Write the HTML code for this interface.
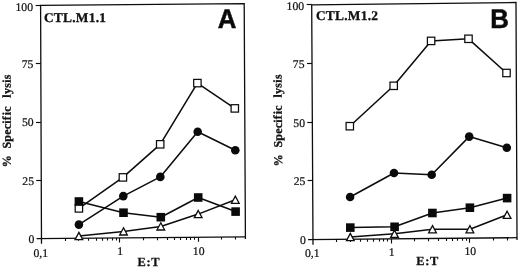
<!DOCTYPE html>
<html><head><meta charset="utf-8"><title>Figure</title>
<style>
html,body{margin:0;padding:0;background:#fff;}
body{width:520px;height:269px;overflow:hidden;}
svg{display:block;will-change:transform;filter:grayscale(1)}
text{text-rendering:geometricPrecision;font-variant-ligatures:none;font-kerning:none}
.tk{font-family:"Liberation Serif",serif;font-size:11.7px;fill:#111;stroke:#111;stroke-width:0.22px}
.ti{font-family:"Liberation Serif",serif;font-size:13.4px;font-weight:bold;fill:#111;stroke:#111;stroke-width:0.3px;letter-spacing:0.27px}
.lt{font-family:"Liberation Sans",sans-serif;font-size:25.8px;font-weight:bold;fill:#0a0a0a;stroke:#0a0a0a;stroke-width:0.5px;}
.yl{font-family:"Liberation Serif",serif;font-size:12px;font-weight:bold;fill:#111;stroke:#111;stroke-width:0.3px}
.xl{font-family:"Liberation Serif",serif;font-size:12.4px;font-weight:bold;fill:#111;letter-spacing:0.65px;stroke:#111;stroke-width:0.3px}
</style></head><body>
<svg width="520" height="269" viewBox="0 0 520 269">
<rect width="520" height="269" fill="#fff"/>
<path d="M41.50 243.80 L40.6 5.4 L244.2 3.7 L245.4 236.8 L245.41 239.00" fill="none" stroke="#0d0d0d" stroke-width="1.3" stroke-linejoin="miter"/>
<path d="M36.60 238.63 L245.4 236.8" fill="none" stroke="#0d0d0d" stroke-width="1.3"/>
<path d="M35.60 5.50 L40.60 5.50" stroke="#0d0d0d" stroke-width="1.15"/>
<text x="33.00" y="10.60" text-anchor="end" class="tk">100</text>
<path d="M35.80 63.50 L40.80 63.50" stroke="#0d0d0d" stroke-width="1.15"/>
<text x="33.35" y="68.00" text-anchor="end" class="tk">75</text>
<path d="M36.00 122.50 L41.00 122.50" stroke="#0d0d0d" stroke-width="1.15"/>
<text x="33.70" y="126.30" text-anchor="end" class="tk">50</text>
<path d="M36.20 180.50 L41.20 180.50" stroke="#0d0d0d" stroke-width="1.15"/>
<text x="34.05" y="184.60" text-anchor="end" class="tk">25</text>
<text x="34.40" y="242.90" text-anchor="end" class="tk">0</text>
<path d="M65.50 238.39 L65.51 240.99" stroke="#0d0d0d" stroke-width="1.1"/>
<path d="M78.50 238.27 L78.51 240.87" stroke="#0d0d0d" stroke-width="1.1"/>
<path d="M88.50 238.18 L88.51 240.78" stroke="#0d0d0d" stroke-width="1.1"/>
<path d="M96.50 238.12 L96.51 240.72" stroke="#0d0d0d" stroke-width="1.1"/>
<path d="M102.50 238.06 L102.51 240.66" stroke="#0d0d0d" stroke-width="1.1"/>
<path d="M107.50 238.02 L107.51 240.62" stroke="#0d0d0d" stroke-width="1.1"/>
<path d="M112.50 237.98 L112.51 240.58" stroke="#0d0d0d" stroke-width="1.1"/>
<path d="M116.50 237.94 L116.51 240.54" stroke="#0d0d0d" stroke-width="1.1"/>
<path d="M119.50 237.91 L119.52 242.41" stroke="#0d0d0d" stroke-width="1.15"/>
<path d="M143.50 237.70 L143.51 240.30" stroke="#0d0d0d" stroke-width="1.1"/>
<path d="M157.50 237.58 L157.51 240.18" stroke="#0d0d0d" stroke-width="1.1"/>
<path d="M167.50 237.49 L167.51 240.09" stroke="#0d0d0d" stroke-width="1.1"/>
<path d="M174.50 237.42 L174.51 240.02" stroke="#0d0d0d" stroke-width="1.1"/>
<path d="M180.50 237.37 L180.51 239.97" stroke="#0d0d0d" stroke-width="1.1"/>
<path d="M186.50 237.32 L186.51 239.92" stroke="#0d0d0d" stroke-width="1.1"/>
<path d="M190.50 237.28 L190.51 239.88" stroke="#0d0d0d" stroke-width="1.1"/>
<path d="M194.50 237.25 L194.51 239.85" stroke="#0d0d0d" stroke-width="1.1"/>
<path d="M198.50 237.22 L198.52 241.72" stroke="#0d0d0d" stroke-width="1.15"/>
<path d="M221.50 237.01 L221.51 239.61" stroke="#0d0d0d" stroke-width="1.1"/>
<path d="M235.50 236.89 L235.51 239.49" stroke="#0d0d0d" stroke-width="1.1"/>
<text x="40.80" y="256.70" text-anchor="middle" class="tk">0,1</text>
<text x="120.10" y="255.21" text-anchor="middle" class="tk">1</text>
<text x="198.70" y="254.52" text-anchor="middle" class="tk">10</text>
<text x="43.9" y="21.5" class="ti">CTL.M1.1</text>
<text transform="translate(217.7 27.75) scale(1 1.045)" class="lt">A</text>
<text transform="translate(10.85 166.1) rotate(-90.15)" class="yl"><tspan x="-1.1">%</tspan><tspan x="17.5" style="letter-spacing:0.22px">Specif</tspan><tspan dx="0.7" style="letter-spacing:0.2px">ic</tspan><tspan x="68.4" style="letter-spacing:0.3px">lysis</tspan></text>
<text x="137.5" y="266.35" class="xl">E:T</text>
<path d="M78.9 208.4 L122.9 177.4 L160.2 144.3 L197.4 83.1 L234.8 108.4" fill="none" stroke="#0d0d0d" stroke-width="1.55" stroke-linejoin="round"/>
<path d="M78.9 224.6 L123.3 196.1 L160.3 176.9 L197.7 131.8 L235.3 150.3" fill="none" stroke="#0d0d0d" stroke-width="1.55" stroke-linejoin="round"/>
<path d="M78.9 201.5 L123.5 212.7 L160.8 217.2 L198.2 197.5 L235.6 211.6" fill="none" stroke="#0d0d0d" stroke-width="1.55" stroke-linejoin="round"/>
<path d="M78.9 236.0 L123.5 231.4 L160.8 226.4 L198.2 214.1 L235.3 199.7" fill="none" stroke="#0d0d0d" stroke-width="1.55" stroke-linejoin="round"/>
<rect x="75.20" y="204.70" width="7.4" height="7.4" fill="#fff" stroke="#0d0d0d" stroke-width="1.25"/>
<rect x="119.20" y="173.70" width="7.4" height="7.4" fill="#fff" stroke="#0d0d0d" stroke-width="1.25"/>
<rect x="156.50" y="140.60" width="7.4" height="7.4" fill="#fff" stroke="#0d0d0d" stroke-width="1.25"/>
<rect x="193.70" y="79.40" width="7.4" height="7.4" fill="#fff" stroke="#0d0d0d" stroke-width="1.25"/>
<rect x="231.10" y="104.70" width="7.4" height="7.4" fill="#fff" stroke="#0d0d0d" stroke-width="1.25"/>
<path d="M78.90 232.40 L82.75 239.60 L75.05 239.60 Z" fill="#fff" stroke="#0d0d0d" stroke-width="1.3" stroke-linejoin="miter"/>
<path d="M123.50 227.80 L127.35 235.00 L119.65 235.00 Z" fill="#fff" stroke="#0d0d0d" stroke-width="1.3" stroke-linejoin="miter"/>
<path d="M160.80 222.80 L164.65 230.00 L156.95 230.00 Z" fill="#fff" stroke="#0d0d0d" stroke-width="1.3" stroke-linejoin="miter"/>
<path d="M198.20 210.50 L202.05 217.70 L194.35 217.70 Z" fill="#fff" stroke="#0d0d0d" stroke-width="1.3" stroke-linejoin="miter"/>
<path d="M235.30 196.10 L239.15 203.30 L231.45 203.30 Z" fill="#fff" stroke="#0d0d0d" stroke-width="1.3" stroke-linejoin="miter"/>
<circle cx="78.9" cy="224.6" r="4.3" fill="#0a0a0a"/>
<circle cx="123.3" cy="196.1" r="4.3" fill="#0a0a0a"/>
<circle cx="160.3" cy="176.9" r="4.3" fill="#0a0a0a"/>
<circle cx="197.7" cy="131.8" r="4.3" fill="#0a0a0a"/>
<circle cx="235.3" cy="150.3" r="4.3" fill="#0a0a0a"/>
<rect x="74.60" y="197.20" width="8.6" height="8.6" fill="#0a0a0a"/>
<rect x="119.20" y="208.40" width="8.6" height="8.6" fill="#0a0a0a"/>
<rect x="156.50" y="212.90" width="8.6" height="8.6" fill="#0a0a0a"/>
<rect x="193.90" y="193.20" width="8.6" height="8.6" fill="#0a0a0a"/>
<rect x="231.30" y="207.30" width="8.6" height="8.6" fill="#0a0a0a"/>
<path d="M313.00 244.85 L311.7 4.8 L516.0 2.5 L517.0 237.7 L517.01 239.90" fill="none" stroke="#0d0d0d" stroke-width="1.3" stroke-linejoin="miter"/>
<path d="M308.10 239.68 L517.0 237.7" fill="none" stroke="#0d0d0d" stroke-width="1.3"/>
<path d="M306.70 4.50 L311.70 4.50" stroke="#0d0d0d" stroke-width="1.15"/>
<text x="304.10" y="10.00" text-anchor="end" class="tk">100</text>
<path d="M307.00 63.50 L312.00 63.50" stroke="#0d0d0d" stroke-width="1.15"/>
<text x="304.55" y="67.81" text-anchor="end" class="tk">75</text>
<path d="M307.30 122.50 L312.30 122.50" stroke="#0d0d0d" stroke-width="1.15"/>
<text x="305.00" y="126.53" text-anchor="end" class="tk">50</text>
<path d="M307.60 180.50 L312.60 180.50" stroke="#0d0d0d" stroke-width="1.15"/>
<text x="305.45" y="185.24" text-anchor="end" class="tk">25</text>
<text x="305.90" y="243.95" text-anchor="end" class="tk">0</text>
<path d="M336.50 239.42 L336.51 242.02" stroke="#0d0d0d" stroke-width="1.1"/>
<path d="M350.50 239.29 L350.51 241.89" stroke="#0d0d0d" stroke-width="1.1"/>
<path d="M360.50 239.20 L360.51 241.80" stroke="#0d0d0d" stroke-width="1.1"/>
<path d="M367.50 239.13 L367.51 241.73" stroke="#0d0d0d" stroke-width="1.1"/>
<path d="M373.50 239.07 L373.51 241.67" stroke="#0d0d0d" stroke-width="1.1"/>
<path d="M379.50 239.02 L379.51 241.62" stroke="#0d0d0d" stroke-width="1.1"/>
<path d="M383.50 238.97 L383.51 241.57" stroke="#0d0d0d" stroke-width="1.1"/>
<path d="M387.50 238.93 L387.51 241.53" stroke="#0d0d0d" stroke-width="1.1"/>
<path d="M391.50 238.90 L391.52 243.40" stroke="#0d0d0d" stroke-width="1.15"/>
<path d="M414.50 238.68 L414.51 241.28" stroke="#0d0d0d" stroke-width="1.1"/>
<path d="M428.50 238.54 L428.51 241.14" stroke="#0d0d0d" stroke-width="1.1"/>
<path d="M438.50 238.45 L438.51 241.05" stroke="#0d0d0d" stroke-width="1.1"/>
<path d="M446.50 238.38 L446.51 240.98" stroke="#0d0d0d" stroke-width="1.1"/>
<path d="M452.50 238.32 L452.51 240.92" stroke="#0d0d0d" stroke-width="1.1"/>
<path d="M457.50 238.27 L457.51 240.87" stroke="#0d0d0d" stroke-width="1.1"/>
<path d="M462.50 238.22 L462.51 240.82" stroke="#0d0d0d" stroke-width="1.1"/>
<path d="M466.50 238.19 L466.51 240.79" stroke="#0d0d0d" stroke-width="1.1"/>
<path d="M469.50 238.15 L469.52 242.65" stroke="#0d0d0d" stroke-width="1.15"/>
<path d="M493.50 237.93 L493.51 240.53" stroke="#0d0d0d" stroke-width="1.1"/>
<path d="M507.50 237.79 L507.51 240.39" stroke="#0d0d0d" stroke-width="1.1"/>
<text x="312.30" y="257.35" text-anchor="middle" class="tk">0,1</text>
<text x="391.64" y="255.90" text-anchor="middle" class="tk">1</text>
<text x="470.28" y="255.15" text-anchor="middle" class="tk">10</text>
<text x="315.9" y="20.1" class="ti">CTL.M1.2</text>
<text transform="translate(490.3 27.7) scale(1 1.045)" class="lt">B</text>
<text transform="translate(282.25 165.1) rotate(-90.5)" class="yl"><tspan x="-1.1">%</tspan><tspan x="17.5" style="letter-spacing:0.22px">Specif</tspan><tspan dx="0.7" style="letter-spacing:0.2px">ic</tspan><tspan x="67.5" style="letter-spacing:0.3px">lysis</tspan></text>
<text x="416.3" y="265.0" class="xl">E:T</text>
<path d="M349.8 126.2 L393.7 85.8 L431.1 40.9 L468.5 38.8 L506.5 73.0" fill="none" stroke="#0d0d0d" stroke-width="1.55" stroke-linejoin="round"/>
<path d="M350.1 197.0 L394.0 173.0 L431.7 174.8 L469.2 136.6 L506.8 147.7" fill="none" stroke="#0d0d0d" stroke-width="1.55" stroke-linejoin="round"/>
<path d="M350.3 227.6 L394.6 226.8 L432.4 213.0 L469.9 207.7 L507.1 198.1" fill="none" stroke="#0d0d0d" stroke-width="1.55" stroke-linejoin="round"/>
<path d="M350.3 237.0 L394.5 233.8 L432.5 229.2 L469.9 229.2 L507.1 214.8" fill="none" stroke="#0d0d0d" stroke-width="1.55" stroke-linejoin="round"/>
<rect x="346.10" y="122.50" width="7.4" height="7.4" fill="#fff" stroke="#0d0d0d" stroke-width="1.25"/>
<rect x="390.00" y="82.10" width="7.4" height="7.4" fill="#fff" stroke="#0d0d0d" stroke-width="1.25"/>
<rect x="427.40" y="37.20" width="7.4" height="7.4" fill="#fff" stroke="#0d0d0d" stroke-width="1.25"/>
<rect x="464.80" y="35.10" width="7.4" height="7.4" fill="#fff" stroke="#0d0d0d" stroke-width="1.25"/>
<rect x="502.80" y="69.30" width="7.4" height="7.4" fill="#fff" stroke="#0d0d0d" stroke-width="1.25"/>
<path d="M350.30 233.40 L354.15 240.60 L346.45 240.60 Z" fill="#fff" stroke="#0d0d0d" stroke-width="1.3" stroke-linejoin="miter"/>
<path d="M394.50 230.20 L398.35 237.40 L390.65 237.40 Z" fill="#fff" stroke="#0d0d0d" stroke-width="1.3" stroke-linejoin="miter"/>
<path d="M432.50 225.60 L436.35 232.80 L428.65 232.80 Z" fill="#fff" stroke="#0d0d0d" stroke-width="1.3" stroke-linejoin="miter"/>
<path d="M469.90 225.60 L473.75 232.80 L466.05 232.80 Z" fill="#fff" stroke="#0d0d0d" stroke-width="1.3" stroke-linejoin="miter"/>
<path d="M507.10 211.20 L510.95 218.40 L503.25 218.40 Z" fill="#fff" stroke="#0d0d0d" stroke-width="1.3" stroke-linejoin="miter"/>
<circle cx="350.1" cy="197.0" r="4.3" fill="#0a0a0a"/>
<circle cx="394.0" cy="173.0" r="4.3" fill="#0a0a0a"/>
<circle cx="431.7" cy="174.8" r="4.3" fill="#0a0a0a"/>
<circle cx="469.2" cy="136.6" r="4.3" fill="#0a0a0a"/>
<circle cx="506.8" cy="147.7" r="4.3" fill="#0a0a0a"/>
<rect x="346.00" y="223.30" width="8.6" height="8.6" fill="#0a0a0a"/>
<rect x="390.30" y="222.50" width="8.6" height="8.6" fill="#0a0a0a"/>
<rect x="428.10" y="208.70" width="8.6" height="8.6" fill="#0a0a0a"/>
<rect x="465.60" y="203.40" width="8.6" height="8.6" fill="#0a0a0a"/>
<rect x="502.80" y="193.80" width="8.6" height="8.6" fill="#0a0a0a"/>
</svg>
</body></html>
